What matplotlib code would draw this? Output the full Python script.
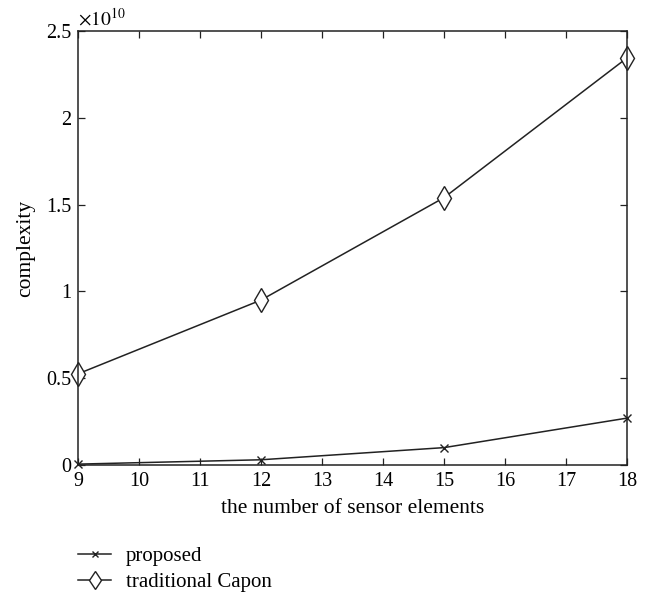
import matplotlib.pyplot as plt
import numpy as np
from matplotlib.ticker import FuncFormatter

plt.rcParams['font.family'] = ['Liberation Serif', 'DejaVu Serif']
plt.rcParams['mathtext.fontset'] = 'stix'

# data
sensors = [9, 12, 15, 18]
proposed = [0.005e10, 0.03e10, 0.10e10, 0.27e10]
capon = [0.525e10, 0.95e10, 1.54e10, 2.345e10]

fig = plt.figure(figsize=(6.5, 5.94), dpi=100)
ax = fig.add_axes([0.12, 0.2172, 0.8446, 0.7306])

ax.plot(sensors, proposed, color='#222222', lw=1.1, marker='x', ms=6,
        mew=1.0, label='proposed', clip_on=False)
ax.plot(sensors, capon, color='#222222', lw=1.1, marker='d', ms=12,
        mfc='white', mew=1.0, label='traditional Capon', clip_on=False)

ax.set_xlim(9, 18)
ax.set_ylim(0, 2.5e10)
ax.set_xticks(np.arange(9, 19))
ax.set_yticks(np.arange(0, 2.6e10, 0.5e10))
ax.yaxis.set_major_formatter(FuncFormatter(lambda v, p: '%g' % (v / 1e10)))
ax.tick_params(direction='in', labelsize=14.5, length=5, width=0.9,
               top=True, right=True, color='#222222', pad=5)
for s in ax.spines.values():
    s.set_linewidth(1.1)
    s.set_color('#222222')

ax.text(0.0, 1.005, r'$\times10^{10}$', transform=ax.transAxes, fontsize=14,
        ha='left', va='bottom')
ax.set_xlabel('the number of sensor elements', fontsize=15.5, labelpad=6)
ax.set_ylabel('complexity', fontsize=15.5, labelpad=8)

ax.legend(loc='upper left', bbox_to_anchor=(-0.034, -0.145), frameon=False,
          fontsize=15, handlelength=1.6, handletextpad=0.7, labelspacing=0.3,
          markerscale=0.8)

fig.savefig('out.png', dpi=100)
